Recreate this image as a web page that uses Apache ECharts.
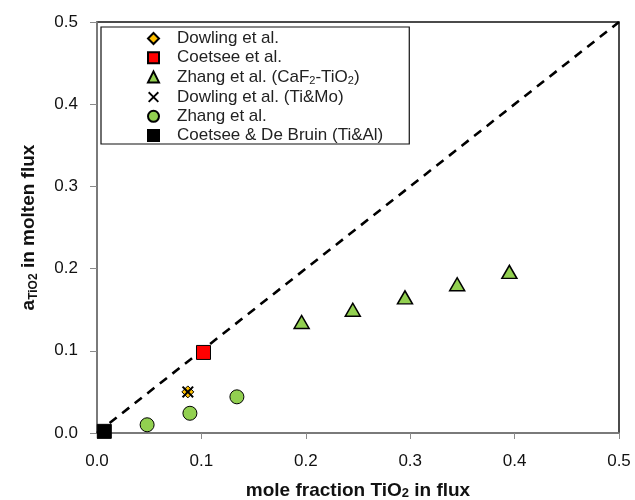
<!DOCTYPE html>
<html>
<head>
<meta charset="utf-8">
<script src="https://cdn.jsdelivr.net/npm/echarts@6/dist/echarts.min.js"></script>
<style>html,body{margin:0;padding:0;background:#fff;}#c{width:635px;height:500px;}</style>
</head>
<body>
<div id="c"></div>
<script>
// ---- data ----
const seriesNames = ['Dowling et al.', 'Coetsee et al.', 'Zhang et al. (CaF2-TiO2)', 'Dowling et al. (Ti&Mo)', 'Zhang et al.', 'Coetsee & De Bruin (Ti&Al)'];
const dowlingX = [0.087];
const dowlingY = [0.050];
const coetseeX = [0.102];
const coetseeY = [0.098];
const zhangCaF2X = [0.196, 0.245, 0.295, 0.345, 0.395];
const zhangCaF2Y = [0.135, 0.150, 0.165, 0.181, 0.196];
const dowlingTiMoX = [0.087];
const dowlingTiMoY = [0.050];
const zhangX = [0.048, 0.089, 0.134];
const zhangY = [0.010, 0.024, 0.044];
const coetseeDBX = [0.007];
const coetseeDBY = [0.002];
const idealX = [0, 0.5];
const idealY = [0, 0.5];

const pts = (xs, ys) => xs.map((x, i) => [x, ys[i]]);
const font = 'Liberation Sans, Arial, sans-serif';
const crossPath = 'path://M1.2,0 L5,3.8 L8.8,0 L10,1.2 L6.2,5 L10,8.8 L8.8,10 L5,6.2 L1.2,10 L0,8.8 L3.8,5 L0,1.2 Z';

const legendRich = {
  t: { fontSize: 17, lineHeight: 19, color: '#222', fontFamily: font, verticalAlign: 'middle' },
  s: { fontSize: 11, lineHeight: 8, color: '#222', fontFamily: font, verticalAlign: 'bottom' }
};
function legendFmt(name) {
  if (name === 'Zhang et al. (CaF2-TiO2)') return '{t|Zhang et al. (CaF}{s|2}{t|-TiO}{s|2}{t|)}';
  return '{t|' + name + '}';
}

const chart = echarts.init(document.getElementById('c'), null, { renderer: 'canvas' });
chart.setOption({
  animation: false,
  backgroundColor: '#fff',
  grid: { left: 97, right: 16, top: 22, bottom: 67, containLabel: false, outerBoundsMode: 'none', show: true, borderColor: '#111', borderWidth: 1.5, backgroundColor: 'transparent' },
  legend: {
    data: seriesNames,
    orient: 'vertical',
    left: 101,
    top: 27,
    padding: [3, 26, 0, 46],
    itemGap: 2.2,
    itemWidth: 11,
    itemHeight: 11,
    backgroundColor: '#fff',
    borderColor: '#111',
    borderWidth: 1.2,
    borderRadius: 0,
    formatter: legendFmt,
    textStyle: { padding: [0, 0, 0, 13], rich: legendRich, fontSize: 17, fontFamily: font, color: '#222' }
  },
  xAxis: {
    type: 'value', min: 0, max: 0.5, interval: 0.1,
    name: 'mole fraction TiO{s|2} in flux',
    nameLocation: 'middle', nameGap: 48,
    nameTextStyle: {
      fontSize: 19, fontWeight: 'bold', fontFamily: font, color: '#111',
      rich: {
        s: { fontSize: 13, fontWeight: 'bold', fontFamily: font, color: '#111', lineHeight: 10, verticalAlign: 'bottom' }
      }
    },
    axisLine: { show: true, lineStyle: { color: '#8a8a8a', width: 1.5 } },
    axisTick: { show: true, length: 6, lineStyle: { color: '#8a8a8a', width: 1 } },
    axisLabel: { margin: 20, fontSize: 17, fontFamily: font, color: '#111', formatter: v => v.toFixed(1) },
    splitLine: { show: false }
  },
  yAxis: {
    type: 'value', min: 0, max: 0.5, interval: 0.1,
    name: '{b|a}{s|TiO2}{b| in molten flux}',
    nameLocation: 'middle', nameGap: 57, nameRotate: 90,
    nameTextStyle: {
      fontSize: 19, fontWeight: 'bold', fontFamily: font, color: '#111',
      rich: {
        b: { fontSize: 19, fontWeight: 'bold', fontFamily: font, color: '#111', lineHeight: 22, verticalAlign: 'middle' },
        s: { fontSize: 12, fontWeight: 'bold', fontFamily: font, color: '#111', lineHeight: 8, verticalAlign: 'bottom' }
      }
    },
    axisLine: { show: true, lineStyle: { color: '#8a8a8a', width: 1.5 } },
    axisTick: { show: true, length: 7, lineStyle: { color: '#8a8a8a', width: 1 } },
    axisLabel: { margin: 19, fontSize: 17, fontFamily: font, color: '#111', formatter: v => v.toFixed(1) },
    splitLine: { show: false }
  },
  series: [
    {
      name: 'ideal', type: 'line', data: pts(idealX, idealY), symbol: 'none', silent: true, z: 1,
      lineStyle: { color: '#000', width: 2.6, type: [9, 7] }
    },
    {
      name: seriesNames[0], type: 'scatter', data: pts(dowlingX, dowlingY), symbol: 'diamond', symbolSize: 12, z: 2,
      itemStyle: { color: '#FFC000', borderColor: '#000', borderWidth: 1, opacity: 1 }
    },
    {
      name: seriesNames[1], type: 'scatter', data: pts(coetseeX, coetseeY), symbol: 'rect', symbolSize: 14, z: 3,
      itemStyle: { color: '#FF0000', borderColor: '#000', borderWidth: 1, opacity: 1 }
    },
    {
      name: seriesNames[2], type: 'scatter', data: pts(zhangCaF2X, zhangCaF2Y), symbol: 'triangle', symbolSize: [15, 13], z: 3,
      itemStyle: { color: '#92D050', borderColor: '#000', borderWidth: 1.5, opacity: 1 }
    },
    {
      name: seriesNames[3], type: 'scatter', data: pts(dowlingTiMoX, dowlingTiMoY), symbol: crossPath, symbolSize: 12, z: 4,
      itemStyle: { color: '#000', borderWidth: 0, opacity: 1 }
    },
    {
      name: seriesNames[4], type: 'scatter', data: pts(zhangX, zhangY), symbol: 'circle', symbolSize: 14, z: 3,
      itemStyle: { color: '#92D050', borderColor: '#000', borderWidth: 1, opacity: 1 }
    },
    {
      name: seriesNames[5], type: 'scatter', data: pts(coetseeDBX, coetseeDBY), symbol: 'rect', symbolSize: 14, z: 3,
      itemStyle: { color: '#000', borderColor: '#000', borderWidth: 1, opacity: 1 }
    }
  ]
});
</script>
</body>
</html>
